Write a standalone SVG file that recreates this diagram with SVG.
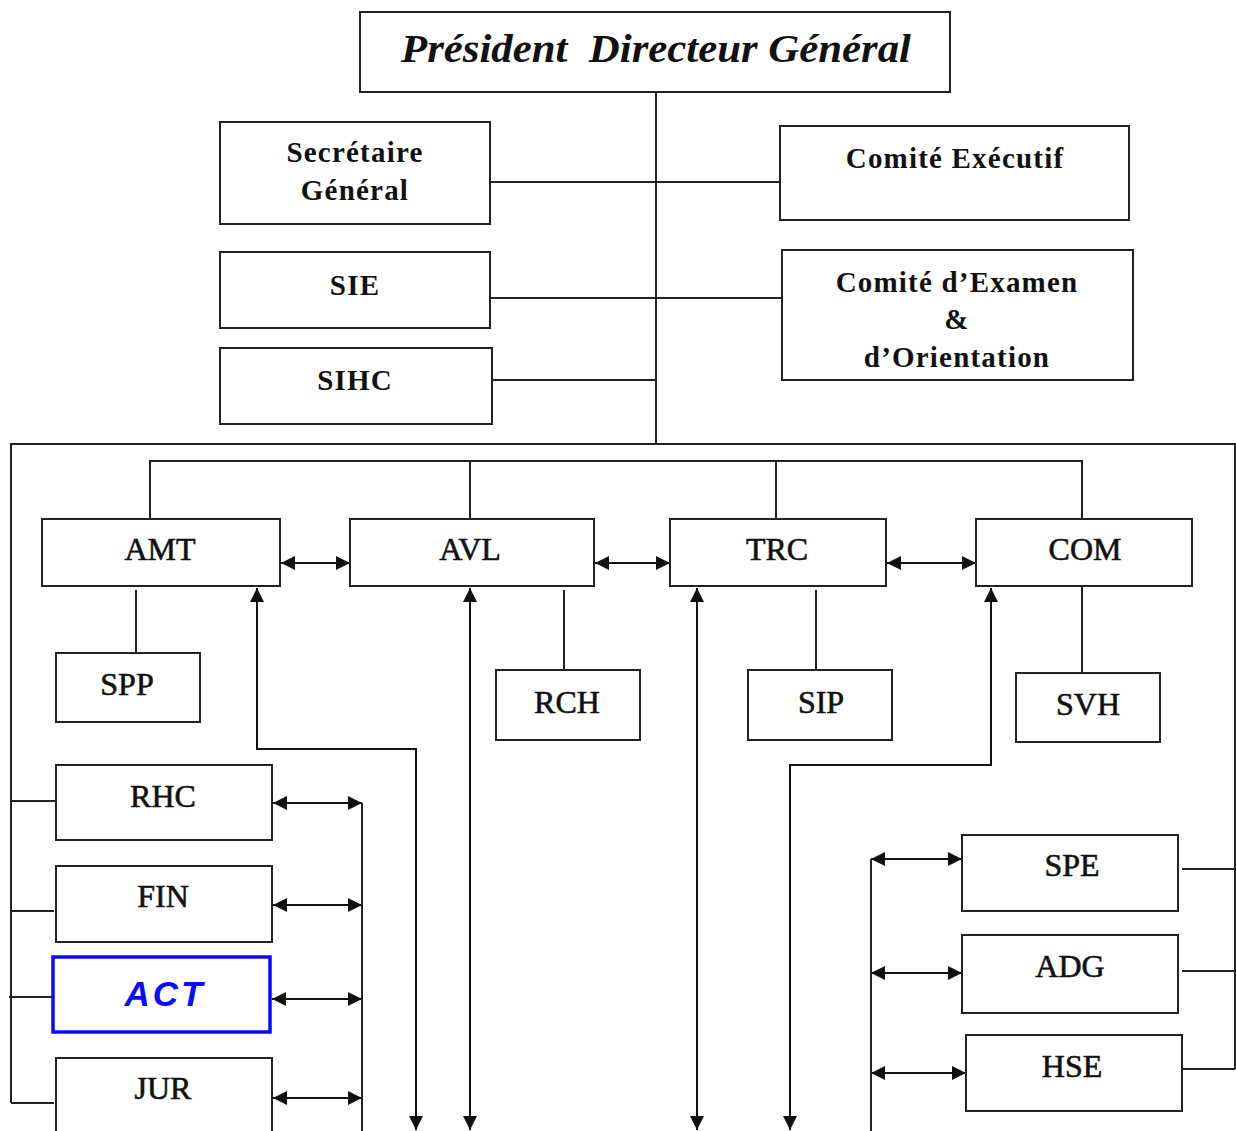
<svg xmlns="http://www.w3.org/2000/svg" width="1236" height="1131" viewBox="0 0 1236 1131">
<defs>
<style>
.box{fill:#fff;stroke:#222;stroke-width:2}
.act{fill:#fff;stroke:#0a0aff;stroke-width:3.5}
.ln{fill:none;stroke:#222;stroke-width:2}
.ar{fill:none;stroke:#111;stroke-width:2;marker-start:url(#ah);marker-end:url(#ah)}
.top{font-family:"Liberation Serif","Times New Roman",serif;font-weight:bold;font-size:29px;letter-spacing:1.2px;fill:#111;text-anchor:middle}
.lbl{font-family:"Liberation Serif","Times New Roman",serif;font-size:32px;fill:#111;stroke:#111;stroke-width:0.6;text-anchor:middle}
.title{font-family:"Liberation Serif","Times New Roman",serif;font-weight:bold;font-style:italic;font-size:40px;fill:#111;text-anchor:middle}
.actt{font-family:"Liberation Sans",Arial,sans-serif;font-weight:bold;font-style:italic;font-size:35px;fill:#0a0aff;text-anchor:middle;letter-spacing:3px}
</style>
<marker id="ah" viewBox="0 0 14 14" refX="14" refY="7" markerWidth="14" markerHeight="14" markerUnits="userSpaceOnUse" orient="auto-start-reverse"><path d="M0,0 L14,7 L0,14 z" fill="#111"/></marker>
</defs>
<rect width="1236" height="1131" fill="#fff"/>

<g id="connectors">
<line class="ln" x1="656" y1="92" x2="656" y2="444"/>
<line class="ln" x1="490" y1="182" x2="780" y2="182"/>
<line class="ln" x1="490" y1="298" x2="782" y2="298"/>
<line class="ln" x1="492" y1="380" x2="656" y2="380"/>
<path class="ln" d="M11,1103 V444 H1235 V1069"/>
<path class="ln" d="M150,519 V461 H1082 V519 M470,461 V519 M776,461 V519"/>
<line class="ar" x1="281" y1="563" x2="350" y2="563"/>
<line class="ar" x1="595" y1="563" x2="670" y2="563"/>
<line class="ar" x1="887" y1="563" x2="976" y2="563"/>
<line class="ln" x1="136" y1="590" x2="136" y2="653"/>
<line class="ln" x1="564" y1="590" x2="564" y2="670"/>
<line class="ln" x1="816" y1="590" x2="816" y2="670"/>
<line class="ln" x1="1082" y1="586" x2="1082" y2="673"/>
<path class="ar" d="M416,1130 V749 H257 V588"/>
<line class="ar" x1="470" y1="1130" x2="470" y2="588"/>
<line class="ar" x1="697" y1="1130" x2="697" y2="588"/>
<path class="ar" d="M790,1130 V765 H991 V588"/>
<line class="ln" x1="11" y1="801" x2="58" y2="801"/>
<line class="ln" x1="11" y1="911" x2="54" y2="911"/>
<line class="ln" x1="9" y1="997" x2="53" y2="997"/>
<line class="ln" x1="11" y1="1103" x2="54" y2="1103"/>
<line class="ar" x1="273" y1="803" x2="362" y2="803"/>
<line class="ar" x1="273" y1="905" x2="362" y2="905"/>
<line class="ar" x1="272" y1="999" x2="362" y2="999"/>
<line class="ar" x1="273" y1="1098" x2="362" y2="1098"/>
<line class="ln" x1="362" y1="803" x2="362" y2="1131"/>
<line class="ar" x1="871" y1="859" x2="962" y2="859"/>
<line class="ar" x1="871" y1="973" x2="962" y2="973"/>
<line class="ar" x1="871" y1="1073" x2="966" y2="1073"/>
<line class="ln" x1="871" y1="859" x2="871" y2="1131"/>
<line class="ln" x1="1182" y1="869" x2="1235" y2="869"/>
<line class="ln" x1="1182" y1="971" x2="1235" y2="971"/>
<line class="ln" x1="1183" y1="1069" x2="1235" y2="1069"/>
</g>

<g id="pdg"><rect class="box" x="360" y="12" width="590" height="80"/><text class="title" x="656" y="62" textLength="510" lengthAdjust="spacingAndGlyphs" xml:space="preserve">Président  Directeur Général</text></g>
<g id="sg"><rect class="box" x="220" y="122" width="270" height="102"/><text class="top" x="355" y="162">Secrétaire</text><text class="top" x="355" y="200">Général</text></g>
<g id="cexec"><rect class="box" x="780" y="126" width="349" height="94"/><text class="top" x="955" y="168">Comité Exécutif</text></g>
<g id="sie"><rect class="box" x="220" y="252" width="270" height="76"/><text class="top" x="355" y="295">SIE</text></g>
<g id="ceo"><rect class="box" x="782" y="250" width="351" height="130"/><text class="top" x="957" y="292">Comité d’Examen</text><text class="top" x="957" y="329">&amp;</text><text class="top" x="957" y="367">d’Orientation</text></g>
<g id="sihc"><rect class="box" x="220" y="348" width="272" height="76"/><text class="top" x="355" y="390">SIHC</text></g>

<g id="amt"><rect class="box" x="42" y="519" width="238" height="67"/><text class="lbl" x="160" y="560">AMT</text></g>
<g id="avl"><rect class="box" x="350" y="519" width="244" height="67"/><text class="lbl" x="470" y="560">AVL</text></g>
<g id="trc"><rect class="box" x="670" y="519" width="216" height="67"/><text class="lbl" x="777" y="560">TRC</text></g>
<g id="com"><rect class="box" x="976" y="519" width="216" height="67"/><text class="lbl" x="1085" y="560">COM</text></g>

<g id="spp"><rect class="box" x="56" y="653" width="144" height="69"/><text class="lbl" x="127" y="695">SPP</text></g>
<g id="rch"><rect class="box" x="496" y="670" width="144" height="70"/><text class="lbl" x="567" y="713">RCH</text></g>
<g id="sip"><rect class="box" x="748" y="670" width="144" height="70"/><text class="lbl" x="821" y="713">SIP</text></g>
<g id="svh"><rect class="box" x="1016" y="673" width="144" height="69"/><text class="lbl" x="1088" y="715">SVH</text></g>

<g id="rhc"><rect class="box" x="56" y="765" width="216" height="75"/><text class="lbl" x="163" y="807">RHC</text></g>
<g id="fin"><rect class="box" x="56" y="866" width="216" height="76"/><text class="lbl" x="163" y="907">FIN</text></g>
<g id="act"><rect class="act" x="53" y="957" width="217" height="75"/><text class="actt" x="165" y="1006">ACT</text></g>
<g id="jur"><rect class="box" x="56" y="1058" width="216" height="80"/><text class="lbl" x="163" y="1099">JUR</text></g>

<g id="spe"><rect class="box" x="962" y="835" width="216" height="76"/><text class="lbl" x="1072" y="876">SPE</text></g>
<g id="adg"><rect class="box" x="962" y="935" width="216" height="78"/><text class="lbl" x="1070" y="977">ADG</text></g>
<g id="hse"><rect class="box" x="966" y="1035" width="216" height="76"/><text class="lbl" x="1072" y="1077">HSE</text></g>
</svg>
